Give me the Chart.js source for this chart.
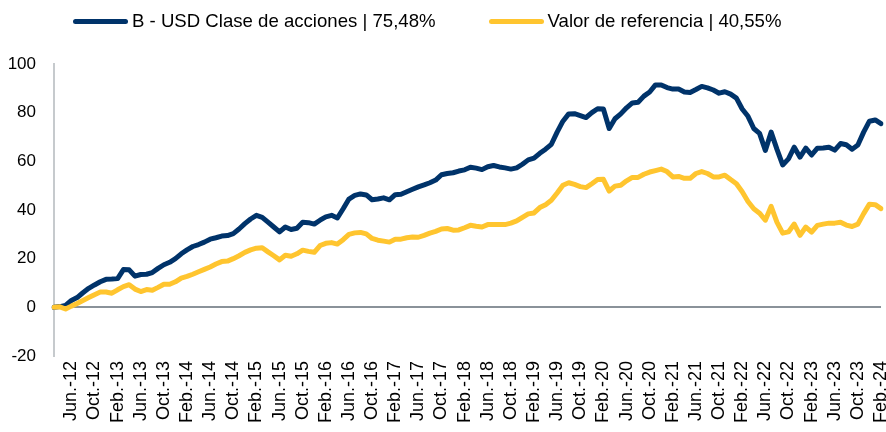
<!DOCTYPE html>
<html>
<head>
<meta charset="utf-8">
<script src="https://cdn.jsdelivr.net/npm/chart.js@4.4.1/dist/chart.umd.min.js"></script>
<style>
  html, body { margin: 0; padding: 0; background: #fff; }
  #wrap { position: relative; width: 886px; height: 432px; }
  #legend { position: absolute; top: 10px; left: 73px; display: flex; align-items: center;
            font-family: 'Liberation Sans', Arial, sans-serif; font-size: 18.6px; color: #000; }
  .item { display: flex; align-items: center; white-space: nowrap; }
  .item + .item { margin-left: 53px; }
  .swatch { display: inline-block; width: 55px; height: 5px; border-radius: 3px; margin-right: 4px; }
</style>
</head>
<body>
<div id="wrap">
  <canvas id="myChart"></canvas>
  <div id="legend"></div>
</div>
<script>
// monthly points, Mar. 2012 .. Feb. 2024
var monthNames = ['Ene.', 'Feb.', 'Mar.', 'Abr.', 'May.', 'Jun.', 'Jul.', 'Ago.', 'Sep.', 'Oct.', 'Nov.', 'Dic.'];
var seriesNames = ['B - USD Clase de acciones | 75,48%', 'Valor de referencia | 40,55%'];

var fundValues = [
  0, 0.3, 0.8, 2.8, 4, 6, 7.8, 9.2, 10.5, 11.5,
  11.6, 11.8, 15.5, 15.4, 12.8, 13.5, 13.6, 14.3, 16, 17.5,
  18.5, 20, 22, 23.6, 25, 25.8, 26.8, 28, 28.6, 29.3,
  29.5, 30.3, 32.2, 34.4, 36.3, 37.8, 37, 35, 33, 31,
  33, 32, 32.5, 35, 34.8, 34.2, 35.8, 37.2, 37.8, 36.7,
  40.5, 44.5, 46, 46.6, 46.2, 44.2, 44.5, 45, 44.2, 46.3,
  46.5, 47.5, 48.5, 49.5, 50.3, 51.2, 52.3, 54.5, 55, 55.3,
  56, 56.5, 57.6, 57.2, 56.6, 57.8, 58.3, 57.7, 57.3, 56.8,
  57.3, 58.8, 60.6, 61.3, 63.3, 65, 67, 72, 76.5, 79.5,
  79.6, 78.8, 78, 80, 81.6, 81.5, 73.5, 77.5, 79.5, 82,
  84, 84.3, 86.8, 88.5, 91.4, 91.4, 90.3, 89.7, 89.7, 88.5,
  88.3, 89.5, 90.8, 90.2, 89.3, 88, 88.6, 87.6, 86, 81.5,
  78.5, 73.5, 71.5, 64.5, 72, 65, 58.5, 61, 65.8, 61.7,
  65.4, 62.6, 65.4, 65.5, 65.8, 64.6, 67.3, 66.8, 65, 66.7,
  72, 76.5, 77, 75.48
];

var benchValues = [
  0, 0.2, -0.7, 0.5, 1.6, 2.8, 4, 5.2, 6.3, 6.3,
  5.8, 7.2, 8.5, 9.3, 7.5, 6.5, 7.3, 7, 8.2, 9.5,
  9.5, 10.5, 12, 12.7, 13.6, 14.6, 15.6, 16.6, 17.8, 18.8,
  19, 20, 21.2, 22.6, 23.6, 24.3, 24.5, 22.8, 21.2, 19.5,
  21.4, 21, 22, 23.5, 23, 22.6, 25.4, 26.3, 26.6, 26,
  27.8, 30, 30.6, 30.8, 30.2, 28.3, 27.6, 27.2, 26.8, 28,
  28, 28.6, 28.9, 28.8, 29.6, 30.5, 31.2, 32.2, 32.4, 31.7,
  31.8, 32.7, 33.7, 33.3, 33, 34, 34, 34, 34, 34.6,
  35.5, 37, 38.4, 38.8, 41, 42.2, 44, 47, 50.2, 51.2,
  50.5, 49.6, 49.2, 50.8, 52.5, 52.6, 47.8, 49.8, 50.2, 52,
  53.4, 53.4, 54.7, 55.6, 56.2, 56.8, 55.8, 53.6, 53.8, 53,
  53, 55, 55.8, 55, 53.6, 53.6, 54.3, 52.5, 50.8, 47.5,
  43.5, 40.5, 38.7, 35.8, 41.5, 35, 30.5, 31, 34.2, 29.6,
  33, 30.9, 33.7, 34.2, 34.6, 34.6, 35, 33.8, 33.2, 34.2,
  38.5, 42.4, 42.2, 40.55
];

var colors = ['#00336a', '#ffc52f'];

var categories = [];
for (var i = 0; i < fundValues.length; i++) {
  var m = (2 + i) % 12;
  var y = 12 + Math.floor((2 + i) / 12);
  categories.push(monthNames[m] + '-' + y);
}

var yFont = { family: "'Liberation Sans', Arial, sans-serif", size: 17 };
var xFont = { family: "'Liberation Sans', Arial, sans-serif", size: 18 };

var chart;
var ctx = document.getElementById('myChart').getContext('2d');
chart = new Chart(ctx, {
  type: 'line',
  data: {
    labels: categories,
    datasets: [
      {
        label: seriesNames[0],
        data: fundValues,
        borderColor: colors[0],
        backgroundColor: colors[0],
        borderWidth: 5,
        pointRadius: 0,
        tension: 0,
        borderJoinStyle: 'round',
        borderCapStyle: 'round',
        order: 1
      },
      {
        label: seriesNames[1],
        data: benchValues,
        borderColor: colors[1],
        backgroundColor: colors[1],
        borderWidth: 5,
        pointRadius: 0,
        tension: 0,
        borderJoinStyle: 'round',
        borderCapStyle: 'round',
        order: 0
      }
    ]
  },
  options: {
    responsive: true,
    maintainAspectRatio: false,
    animation: false,
    layout: { padding: { top: 64, right: 5, left: 0, bottom: 0 } },
    plugins: {
      legend: { display: false },
      tooltip: { enabled: false }
    },
    scales: {
      x: {
        offset: false,
        grid: { display: false, drawTicks: false },
        border: { display: false },
        ticks: {
          autoSkip: false,
          maxRotation: 90,
          minRotation: 90,
          padding: 5,
          color: '#000',
          font: xFont,
          callback: function (val, idx) {
            return idx % 4 === 3 ? categories[idx] : null;
          }
        },
        afterFit: function (s) {
          s.height = 76;
          s.paddingLeft = 0;
          s.paddingRight = 0;
        }
      },
      y: {
        min: -20,
        max: 100,
        ticks: { stepSize: 20, padding: 18, color: '#000', font: yFont },
        grid: {
          drawTicks: false,
          lineWidth: 2,
          color: function (c) { return c.tick && c.tick.value === 0 ? '#8a9299' : 'transparent'; }
        },
        border: { display: true, color: '#c6cacd', width: 2 },
        afterFit: function (s) { s.width = 54; }
      }
    }
  }
});

// legend
var legendBox = document.getElementById('legend');
chart.data.datasets.forEach(function (ds) {
  var item = document.createElement('div');
  item.className = 'item';
  var sw = document.createElement('span');
  sw.className = 'swatch';
  sw.style.background = ds.borderColor;
  var txt = document.createElement('span');
  txt.textContent = ds.label;
  item.appendChild(sw);
  item.appendChild(txt);
  legendBox.appendChild(item);
});
</script>
</body>
</html>
